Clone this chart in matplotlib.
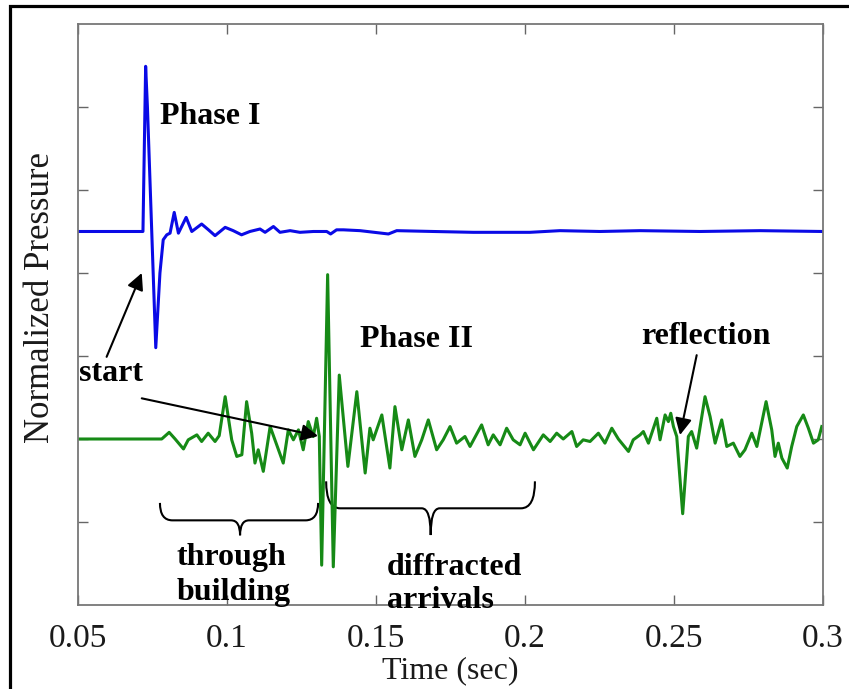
import matplotlib
matplotlib.use('Agg')
import matplotlib.pyplot as plt
from matplotlib.path import Path
from matplotlib.patches import PathPatch, Rectangle

plt.rcParams['font.family'] = ['Liberation Serif', 'DejaVu Serif']

# Phase I trace (blue), offset baseline 2.5
t_blue = [0.05, 0.0718, 0.0727, 0.0733, 0.0761, 0.0775, 0.0786, 0.0798, 0.0809,
          0.0823, 0.0837, 0.0863, 0.0882, 0.0915, 0.0938, 0.0960, 0.0994, 0.1021,
          0.1049, 0.1077, 0.1111, 0.1128, 0.1156, 0.1178, 0.1212, 0.1245, 0.1290,
          0.1335, 0.1348, 0.1368, 0.1391, 0.1447, 0.1542, 0.1570, 0.1693, 0.1827,
          0.2017, 0.2118, 0.2252, 0.2387, 0.2588, 0.2790, 0.3]
p_blue = [2.5, 2.5, 4.49, 4.0, 1.10, 2.0, 2.40, 2.46, 2.48,
          2.73, 2.48, 2.67, 2.50, 2.59, 2.52, 2.45, 2.55, 2.51,
          2.46, 2.50, 2.53, 2.49, 2.56, 2.49, 2.51, 2.49, 2.50,
          2.50, 2.47, 2.52, 2.52, 2.51, 2.47, 2.51, 2.50, 2.49,
          2.49, 2.51, 2.50, 2.51, 2.50, 2.51, 2.50]

# Phase II trace (green), baseline 0
t_green = [0.05, 0.0781, 0.0806, 0.0826, 0.0854, 0.0870, 0.0899, 0.0915, 0.0937,
           0.0960, 0.0974, 0.0994, 0.1016, 0.1033, 0.1050, 0.1066, 0.1083, 0.1094,
           0.1105, 0.1122, 0.1145, 0.1167, 0.1189, 0.1206, 0.1223, 0.1240, 0.1256,
           0.1273, 0.1290, 0.1301, 0.1310, 0.1318, 0.1338, 0.1357, 0.1377, 0.1406,
           0.1436, 0.1464, 0.1480, 0.1491, 0.1520, 0.1547, 0.1564, 0.1587, 0.1609,
           0.1631, 0.1654, 0.1676, 0.1704, 0.1726, 0.1749, 0.1771, 0.1799, 0.1816,
           0.1855, 0.1877, 0.1894, 0.1917, 0.1939, 0.1961, 0.1984, 0.2001, 0.2029,
           0.2062, 0.2085, 0.2107, 0.2129, 0.2158, 0.2174, 0.2196, 0.2219, 0.2247,
           0.2269, 0.2292, 0.2314, 0.2348, 0.2364, 0.2387, 0.2398, 0.2415, 0.2443,
           0.2454, 0.2471, 0.2482, 0.2490, 0.2499, 0.2510, 0.2530, 0.2549, 0.2560,
           0.2577, 0.2605, 0.2622, 0.2639, 0.2661, 0.2678, 0.2700, 0.2722, 0.2739,
           0.2762, 0.2779, 0.2810, 0.2829, 0.2840, 0.2851, 0.2863, 0.2881, 0.2896,
           0.2913, 0.2935, 0.2952, 0.2969, 0.2985, 0.2997]
p_green = [0.0, 0.0, 0.08, 0.0, -0.12, -0.01, 0.05, -0.03, 0.07,
           -0.03, 0.04, 0.51, -0.01, -0.21, -0.19, 0.45, 0.07, -0.29,
           -0.13, -0.39, 0.15, -0.07, -0.29, 0.11, -0.01, 0.11, -0.13,
           0.21, 0.03, 0.25, 0.03, -1.52, 1.98, -1.54, 0.77, -0.33,
           0.57, -0.41, 0.13, -0.01, 0.29, -0.35, 0.39, -0.13, 0.23,
           -0.21, -0.01, 0.23, -0.13, -0.01, 0.15, -0.05, 0.03, -0.09,
           0.17, -0.07, 0.05, -0.07, 0.13, -0.01, -0.07, 0.07, -0.13,
           0.05, -0.03, 0.07, 0.0, 0.09, -0.09, -0.01, -0.03, 0.07,
           -0.05, 0.13, 0.0, -0.15, -0.01, 0.05, 0.09, -0.05, 0.25,
           -0.01, 0.29, 0.21, 0.31, 0.15, 0.03, -0.90, 0.03, 0.09,
           -0.11, 0.51, 0.27, -0.05, 0.23, -0.09, -0.05, -0.21, -0.13,
           0.07, -0.09, 0.45, 0.11, -0.21, -0.05, -0.23, -0.35, -0.09,
           0.15, 0.29, 0.13, -0.05, -0.01, 0.15]

x_ticks = [0.05, 0.1, 0.15, 0.2, 0.25, 0.3]
x_labels = ['0.05', '0.1', '0.15', '0.2', '0.25', '0.3']
y_ticks = [-1, 0, 1, 2, 3, 4]


def brace(ax, x0, x1, xc, y_end, y_bar, y_tip, w_end, w_mid):
    verts = [(x0, y_end), (x0, y_bar), (x0 + w_end, y_bar),
             (xc - w_mid, y_bar), (xc, y_bar), (xc, y_tip),
             (xc, y_bar), (xc + w_mid, y_bar),
             (x1 - w_end, y_bar), (x1, y_bar), (x1, y_end)]
    codes = [Path.MOVETO, Path.CURVE3, Path.CURVE3,
             Path.LINETO, Path.CURVE3, Path.CURVE3,
             Path.CURVE3, Path.CURVE3,
             Path.LINETO, Path.CURVE3, Path.CURVE3]
    ax.add_patch(PathPatch(Path(verts, codes), fill=False, lw=1.5,
                           edgecolor='black', clip_on=False))


fig = plt.figure(figsize=(8.49, 6.89), dpi=100)
ax = fig.add_axes([0.0919, 0.1219, 0.8771, 0.8433])

ax.plot(t_blue, p_blue, color='#0a0ae6', lw=2.2, solid_joinstyle='round')
ax.plot(t_green, p_green, color='#168a16', lw=2.2, solid_joinstyle='round')

ax.set_xlim(0.05, 0.3)
ax.set_ylim(-2, 5)
ax.set_xticks(x_ticks)
ax.set_xticklabels(x_labels)
ax.set_yticks(y_ticks)
ax.set_yticklabels([])
ax.tick_params(direction='in', length=7, width=1, color='#666666',
               top=True, right=True, labelsize=24, labelcolor='#1a1a1a', pad=13)
for s in ax.spines.values():
    s.set_color('#777777')
    s.set_linewidth(1.3)

ax.set_xlabel('Time (sec)', fontsize=23, color='#1a1a1a', labelpad=2)
ax.set_ylabel('Normalized Pressure', fontsize=25, color='#1a1a1a', va='center')
ax.yaxis.set_label_coords(-0.051, 0.53)

bold = dict(fontsize=23, fontweight='bold', color='black', clip_on=False)
ax.text(0.0775, 3.80, 'Phase I', ha='left', va='baseline', **bold)
ax.text(0.1447, 1.11, 'Phase II', ha='left', va='baseline', **bold)
ax.text(0.2392, 1.14, 'reflection', ha='left', va='baseline', **bold)
ax.text(0.0502, 0.70, 'start', ha='left', va='baseline', **bold)
ax.text(0.0831, -1.52, 'through', ha='left', va='baseline', **bold)
ax.text(0.0831, -1.94, 'building', ha='left', va='baseline', **bold)
ax.text(0.1536, -1.64, 'diffracted', ha='left', va='baseline', **bold)
ax.text(0.1536, -2.04, 'arrivals', ha='left', va='baseline', **bold)

arrow = dict(arrowstyle='-|>', color='black', lw=1.5, mutation_scale=25,
             shrinkA=0, shrinkB=0)
ax.annotate('', xy=(0.0714, 2.0), xytext=(0.0596, 0.99), arrowprops=arrow)
ax.annotate('', xy=(0.1306, 0.036), xytext=(0.0714, 0.49), arrowprops=arrow)
ax.annotate('', xy=(0.2521, 0.048), xytext=(0.2577, 1.01), arrowprops=arrow)

brace(ax, 0.0775, 0.1306, 0.1044, -0.77, -0.98, -1.16, 0.0042, 0.003)
brace(ax, 0.1333, 0.2034, 0.1684, -0.51, -0.835, -1.157, 0.0047, 0.003)

# outer frame of the picture (cut off at right and bottom)
fig.patches.append(Rectangle((0.0118, -0.5), 1.5, 1.4913, transform=fig.transFigure,
                             fill=False, lw=2.3, edgecolor='black'))

fig.savefig('out.png', dpi=100)
